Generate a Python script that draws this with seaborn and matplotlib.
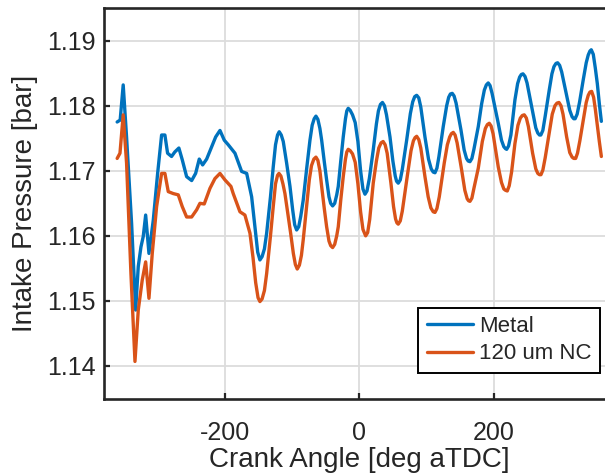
import numpy as np
import pandas as pd
import matplotlib
matplotlib.use("Agg")
import matplotlib.pyplot as plt
import seaborn as sns

# Intake manifold pressure traces over one engine cycle
metal_angle = [
    -360, -355.5, -351, -346, -338.5, -332.5, -328.6, -324.6, -321.2, -317.6,
    -312.7, -306.3, -299.8, -293.9, -289, -285, -279.1, -274.2, -268.2, -263.2,
    -256.7, -249.2, -243.3, -237.9, -232.9, -226.9, -219.5, -213.5, -207.1, -200.7,
    -194.8, -184.8, -174.9, -167.4,
    -160, -155, -151, -147.7, -144.5, -141, -137.7, -132, -127.9, -124.5,
    -121.5, -119, -116, -113, -108, -103, -99, -96, -93.1, -90,
    -87, -83.3, -78, -73.3, -70, -67, -64.4, -61.5, -58.5, -55.9,
    -52, -48.5, -45, -42.5, -39.6, -36.5, -33.5, -31.2, -27.5, -23.8,
    -20.5, -18.5, -16.4, -13.5, -10, -6, -2, 2, 5.5, 8.5,
    11.5, 15, 20.8, 25.5, 28.5, 31.5, 34.5, 37.5, 40.5, 45.7,
    50, 53.5, 55.5, 58, 61, 64, 70.5, 76, 79.5, 82.5,
    85.4, 88.5, 91.5, 97.7, 103, 107, 110, 112.6, 115.5, 118.5,
    124.9, 130, 133, 135.5, 138.3, 141, 144, 151.2, 156, 159.5,
    162, 164.6, 167.5, 170.5, 177, 182, 186, 189, 191.8, 194.5,
    197.5, 206.7, 211.5, 215, 217.5, 219.2, 222, 225.5, 231.5, 235.5,
    238.5, 241, 243.5, 246.5, 249.5, 257.8, 262.5, 265.5, 268, 270,
    273, 276.5, 282.5, 286.5, 289.5, 292.5, 295, 298, 301, 308.4,
    313, 316.5, 319, 321, 324, 327.5, 333.1, 337.5, 340.5, 343,
    345, 348, 351, 354, 357, 360,
]
metal_pressure = [
    1.1775, 1.1778, 1.1832, 1.1752, 1.1619, 1.1486, 1.1553, 1.1583, 1.1599, 1.1632,
    1.1573, 1.1624, 1.1696, 1.1755, 1.1755, 1.1727, 1.1722, 1.1729, 1.1735, 1.1717,
    1.1691, 1.1685, 1.1696, 1.1718, 1.1709, 1.1718, 1.1737, 1.1752, 1.1762, 1.1747,
    1.1740, 1.1727, 1.1699, 1.1696,
    1.1660, 1.1612, 1.1575, 1.1563, 1.1568, 1.1580, 1.1604, 1.1660, 1.1706, 1.1740,
    1.1755, 1.1760, 1.1755, 1.1745, 1.1712, 1.1676, 1.1640, 1.1617, 1.1609, 1.1614,
    1.1630, 1.1655, 1.1705, 1.1747, 1.1770, 1.1780, 1.1784, 1.1779, 1.1765, 1.1747,
    1.1714, 1.1686, 1.1660, 1.1650, 1.1646, 1.1650, 1.1663, 1.1676, 1.1715, 1.1752,
    1.1780, 1.1792, 1.1796, 1.1793, 1.1786, 1.1774, 1.1745, 1.1700, 1.1672, 1.1664,
    1.1669, 1.1688, 1.1732, 1.1772, 1.1792, 1.1802, 1.1805, 1.1800, 1.1786, 1.1752,
    1.1715, 1.1692, 1.1684, 1.1681, 1.1686, 1.1702, 1.1747, 1.1788, 1.1806, 1.1814,
    1.1816, 1.1812, 1.1798, 1.1752, 1.1718, 1.1703, 1.1698, 1.1697, 1.1704, 1.1722,
    1.1768, 1.1800, 1.1813, 1.1818, 1.1819, 1.1815, 1.1804, 1.1763, 1.1732, 1.1719,
    1.1715, 1.1714, 1.1719, 1.1733, 1.1768, 1.1803, 1.1824, 1.1832, 1.1835, 1.1831,
    1.1819, 1.1773, 1.1747, 1.1737, 1.1734, 1.1733, 1.1738, 1.1755, 1.1809, 1.1834,
    1.1844, 1.1848, 1.1849, 1.1845, 1.1835, 1.1791, 1.1766, 1.1758, 1.1755, 1.1755,
    1.1762, 1.1784, 1.1824, 1.1849, 1.1860, 1.1865, 1.1866, 1.1862, 1.1852, 1.1816,
    1.1793, 1.1783, 1.1780, 1.1780, 1.1787, 1.1805, 1.1840, 1.1866, 1.1878, 1.1884,
    1.1886, 1.1879, 1.1858, 1.1834, 1.1803, 1.1776,
]

nc_angle = [
    -360, -355.8, -351, -346, -339.5, -333.5, -328.6, -322.7, -317.6, -312.7,
    -307.8, -301.3, -293.9, -289, -284, -276.6, -269.1, -263.2, -256.7, -249.2,
    -241.8, -236.9, -230.5, -222, -214.6, -207.1, -199.7, -190.8, -187.4, -177.4,
    -170,
    -162.5, -158, -154, -150.5, -147.7, -144.5, -141, -137.7, -132, -127.9,
    -124.5, -121.5, -119.4, -116.5, -113.5, -110.5, -106, -102, -98, -95,
    -92.2, -89, -86, -83.3, -78, -74.3, -71, -67.5, -64.4, -61.5,
    -58.5, -55.9, -52, -48.5, -45, -42.5, -39.6, -36.5, -33.5, -31.2,
    -27.5, -23.8, -20.5, -18.5, -16.4, -13.5, -10, -6, -2, 2,
    5.5, 9.5, 12.5, 15.5, 20.8, 25.5, 29, 32.5, 35.5, 38.5,
    41.5, 47.1, 51, 54, 56, 58, 61, 64, 72, 77,
    80.5, 83, 85.4, 88.5, 91.5, 97.7, 102.5, 106.5, 110, 112.6,
    115.5, 119, 126.4, 131, 134.5, 137, 139.8, 142.5, 145.5, 152.3,
    157, 160.5, 162.5, 164.6, 167.5, 170.5, 177, 183, 187.5, 190.5,
    193.3, 196, 199, 206.7, 211.5, 215, 217.5, 220.1, 223, 226.5,
    231.5, 236, 239.5, 242.5, 245.4, 248.5, 251.5, 257.8, 262.5, 265.5,
    268, 270.2, 273, 276.5, 282.5, 287, 291, 294, 297, 300,
    303, 308.4, 313, 316.5, 319, 321.8, 324.5, 328, 333.1, 337.5,
    340.5, 343, 345.6, 348.5, 351, 354, 357, 360,
]
nc_pressure = [
    1.1719, 1.1727, 1.1786, 1.1712, 1.1542, 1.1407, 1.1486, 1.1532, 1.1560, 1.1504,
    1.1573, 1.1645, 1.1696, 1.1696, 1.1668, 1.1665, 1.1663, 1.1645, 1.1629, 1.1629,
    1.1640, 1.1650, 1.1649, 1.1673, 1.1688, 1.1696, 1.1686, 1.1676, 1.1665, 1.1637,
    1.1632,
    1.1604, 1.1567, 1.1528, 1.1505, 1.1499, 1.1503, 1.1516, 1.1542, 1.1600, 1.1645,
    1.1680, 1.1693, 1.1696, 1.1692, 1.1680, 1.1665, 1.1633, 1.1604, 1.1573, 1.1556,
    1.1549, 1.1555, 1.1570, 1.1594, 1.1648, 1.1686, 1.1708, 1.1718, 1.1721, 1.1716,
    1.1700, 1.1676, 1.1642, 1.1614, 1.1592, 1.1585, 1.1582, 1.1587, 1.1600, 1.1614,
    1.1655, 1.1691, 1.1718, 1.1729, 1.1733, 1.1731, 1.1726, 1.1713, 1.1680, 1.1637,
    1.1610, 1.1600, 1.1605, 1.1625, 1.1681, 1.1715, 1.1735, 1.1743, 1.1745, 1.1740,
    1.1727, 1.1681, 1.1645, 1.1626, 1.1620, 1.1618, 1.1623, 1.1638, 1.1696, 1.1731,
    1.1746, 1.1751, 1.1753, 1.1748, 1.1735, 1.1691, 1.1660, 1.1643, 1.1637, 1.1636,
    1.1642, 1.1660, 1.1712, 1.1740, 1.1752, 1.1757, 1.1759, 1.1755, 1.1743, 1.1701,
    1.1670, 1.1657, 1.1654, 1.1653, 1.1658, 1.1673, 1.1704, 1.1745, 1.1765, 1.1771,
    1.1773, 1.1769, 1.1757, 1.1706, 1.1682, 1.1672, 1.1670, 1.1669, 1.1677, 1.1698,
    1.1742, 1.1770, 1.1781, 1.1785, 1.1786, 1.1781, 1.1768, 1.1727, 1.1703, 1.1696,
    1.1694, 1.1694, 1.1701, 1.1720, 1.1758, 1.1787, 1.1800, 1.1804, 1.1805, 1.1800,
    1.1787, 1.1752, 1.1728, 1.1721, 1.1719, 1.1719, 1.1727, 1.1746, 1.1778, 1.1805,
    1.1816, 1.1821, 1.1822, 1.1813, 1.1795, 1.1770, 1.1745, 1.1722,
]

series_names = ["Metal", "120 um NC"]
series_colors = ["#0072BD", "#D95319"]
x_ticks = [-200, 0, 200]
y_ticks = [1.14, 1.15, 1.16, 1.17, 1.18, 1.19]

sns.set_theme(style="white")
plt.rcParams["font.family"] = ["Liberation Sans", "DejaVu Sans"]
plt.rcParams["axes.unicode_minus"] = False

df = pd.concat([
    pd.DataFrame({"angle": metal_angle, "pressure": metal_pressure, "case": series_names[0]}),
    pd.DataFrame({"angle": nc_angle, "pressure": nc_pressure, "case": series_names[1]}),
], ignore_index=True)

fig = plt.figure(figsize=(6.05, 4.75), dpi=100)
# axes run past the right edge of the figure, so the right spine is clipped
ax = fig.add_axes([0.1714, 0.161, 0.8448, 0.8219])

sns.lineplot(data=df, x="angle", y="pressure", hue="case", hue_order=series_names,
             palette=series_colors, estimator=None, sort=False, linewidth=2.4,
             solid_joinstyle="round", solid_capstyle="round", ax=ax)

ax.set_xlim(-380, 380)
ax.set_ylim(1.135, 1.195)
ax.set_xticks(x_ticks)
ax.set_yticks(y_ticks)
ax.set_yticklabels([f"{v:.2f}" for v in y_ticks])
ax.grid(True, color="#dcdcdc", linewidth=1.3)
ax.set_axisbelow(True)

dark = "#262626"
for s in ax.spines.values():
    s.set_color(dark)
    s.set_linewidth(1.9)
ax.tick_params(direction="in", length=4, width=1.6, color=dark, labelcolor=dark,
               labelsize=18, top=False, right=False, bottom=True, left=True)
ax.tick_params(axis="x", pad=16.5)
ax.tick_params(axis="y", pad=6)

ax.set_xlabel("Crank Angle [deg aTDC]", fontsize=20, color=dark, labelpad=1)
ax.set_ylabel("Intake Pressure [bar]", fontsize=20, color=dark, labelpad=6)

leg = ax.legend(loc="lower right", bbox_to_anchor=(0.971, 0.066), borderaxespad=0,
                fontsize=16, frameon=True, fancybox=False, edgecolor="black",
                framealpha=1, handlelength=2.1, handletextpad=0.25,
                borderpad=0.38, labelspacing=0.28, title=None)
leg.get_frame().set_linewidth(1.4)
for line in leg.get_lines():
    line.set_linewidth(2.4)

fig.savefig("out.png", dpi=100)
